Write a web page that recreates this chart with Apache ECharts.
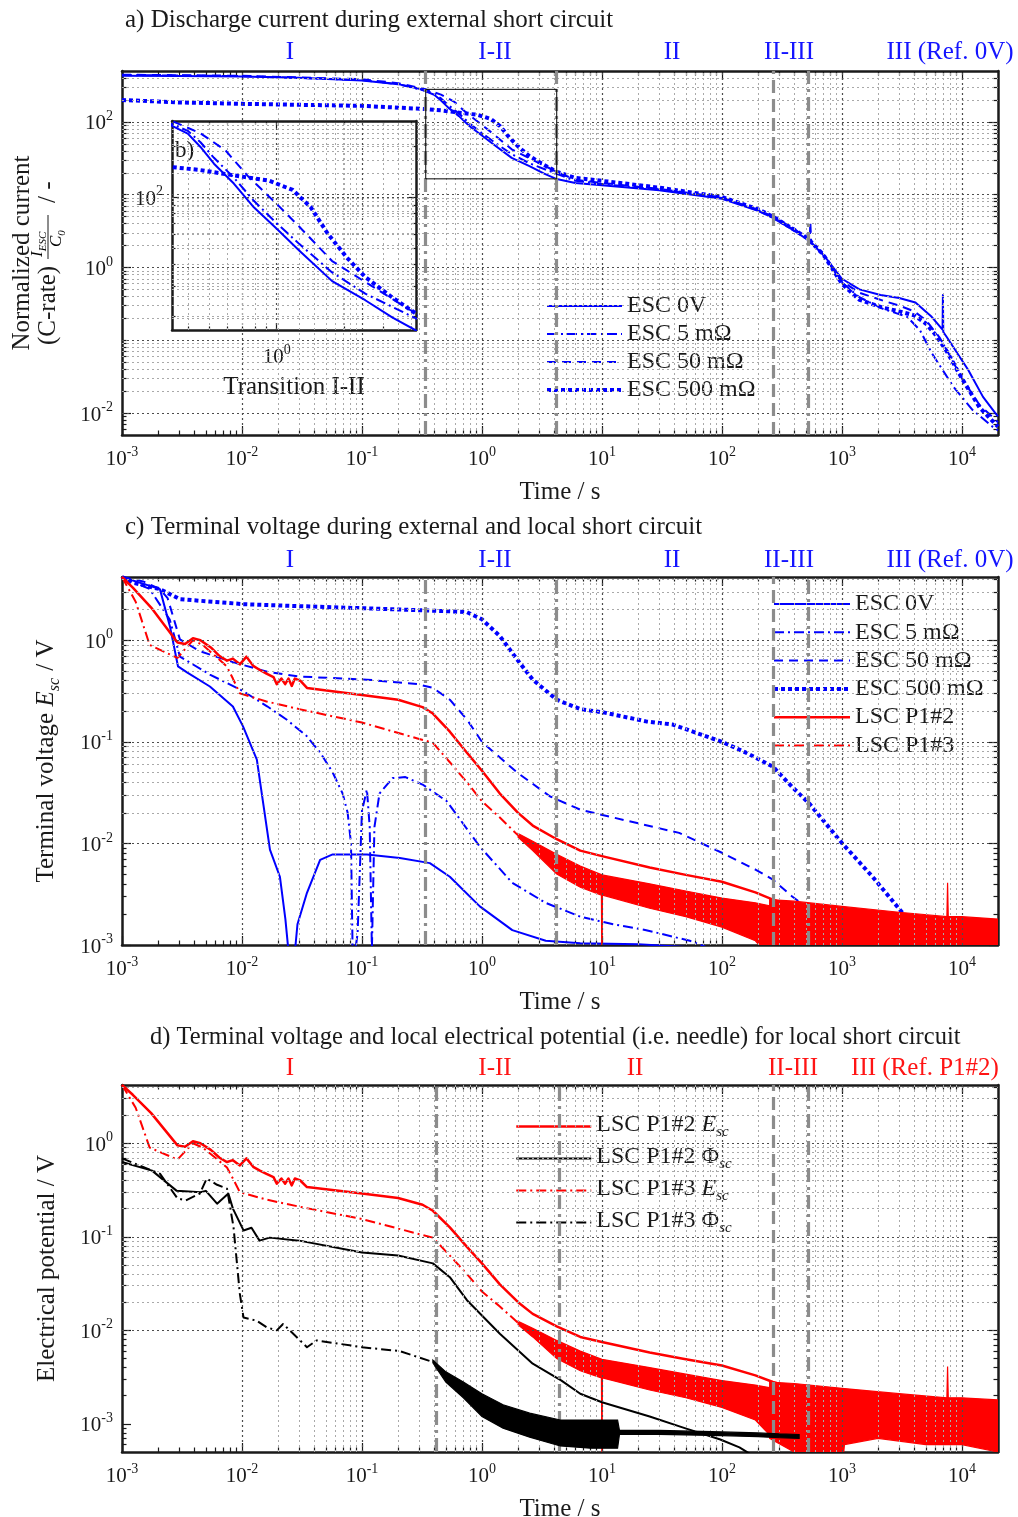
<!DOCTYPE html>
<html><head><meta charset="utf-8">
<script src="https://cdn.jsdelivr.net/npm/echarts/dist/echarts.min.js"></script>
<style>html,body{margin:0;padding:0;background:#fff}#c{width:1018px;height:1517px}</style>
</head><body><div id="c"></div>
<script>
// ================= DATA =================
const xRange = [1e-3, 2e4];
const xTickExps = [-3, -2, -1, 0, 1, 2, 3, 4];
const yRangeA = [5e-3, 5e2];
const yLabelExpsA = [-2, 0, 2];
const yDecadeExpsA = [-2, -1, 0, 1, 2];
const yRangeC = [1e-3, 4.2];
const yTickExpsC = [-3, -2, -1, 0];
const yRangeD = [5e-4, 4.2];
const yTickExpsD = [-3, -2, -1, 0];
const insetXRange = [0.34, 4.2];
const insetYRange = [16.5, 280];
const insetXTickExps = [0];
const insetYTickExps = [2];

const phaseTimesA = [0.34, 4.2, 266, 520];
const phaseTimesD = [0.42, 4.4, 266, 520];
const phaseLabelsA = ['I', 'I-II', 'II', 'II-III', 'III (Ref. 0V)'];
const phaseLabelsD = ['I', 'I-II', 'II', 'II-III', 'III (Ref. P1#2)'];

const legendA = ['ESC 0V', 'ESC 5 mΩ', 'ESC 50 mΩ', 'ESC 500 mΩ'];
const legendC = ['ESC 0V', 'ESC 5 mΩ', 'ESC 50 mΩ', 'ESC 500 mΩ', 'LSC P1#2', 'LSC P1#3'];
const legendD = ['LSC P1#2 Esc', 'LSC P1#2 Φsc', 'LSC P1#3 Esc', 'LSC P1#3 Φsc'];

// inset box (transition I-II) in panel a
const insetBox = [[0.34, 16.5], [4.2, 16.5], [4.2, 280], [0.34, 280], [0.34, 16.5]];

// panel a: normalized current
const escCurrent0V = [[1e-3,430],[3e-3,428],[1e-2,420],[3e-2,405],[0.1,370],[0.2,330],[0.3,285],[0.34,262],[0.4,236],[0.456,197],[0.524,157],[0.643,120],[0.79,87],[1.0,65],[1.26,48.5],[1.77,32],[2.49,24.7],[3.3,19.5],[4.2,16.4],[6,14.5],[10,13.5],[30,11.5],[100,8.8],[200,6.0],[266,4.8],[400,3.2],[520,2.4],[700,1.5],[1000,0.7],[1400,0.5],[2100,0.42],[3000,0.38],[4100,0.33],[5600,0.21],[6900,0.14],[6950,0.42],[7000,0.13],[7500,0.11],[1.13e4,0.039],[1.5e4,0.0167],[1.9e4,0.01],[2e4,0.009]];
const escCurrent5m = [[1e-3,440],[1e-2,425],[0.1,375],[0.2,330],[0.34,268],[0.4,245],[0.456,210],[0.524,170],[0.643,130],[0.79,95],[1.0,70],[1.26,53],[1.77,36],[2.49,27],[4.2,19.3],[6,15.5],[10,14],[30,11.8],[100,9.0],[200,6.1],[266,4.9],[400,3.3],[520,2.5],[700,1.5],[1000,0.62],[1400,0.39],[2200,0.27],[3500,0.21],[4470,0.138],[5600,0.067],[8500,0.023],[1.23e4,0.011],[1.8e4,0.0065],[2e4,0.0058]];
const escCurrent50m = [[1e-3,445],[1e-2,430],[0.1,385],[0.2,340],[0.34,280],[0.456,237],[0.59,188],[0.75,131],[1.0,91],[1.26,67],[1.77,42],[2.49,31.6],[4.2,20.6],[6,16],[10,14.5],[30,12],[100,9.2],[200,6.2],[266,5.0],[400,3.4],[500,2.6],[540,2.3],[545,4.3],[555,2.2],[700,1.5],[1000,0.65],[1400,0.45],[2200,0.35],[3000,0.3],[4000,0.25],[5000,0.19],[6500,0.11],[8000,0.06],[1e4,0.03],[1.4e4,0.013],[2e4,0.0075]];
const escCurrent500m = [[1e-3,200],[3e-3,185],[1e-2,177],[0.1,166],[0.34,150],[0.456,144],[0.643,134],[0.92,125],[1.18,110],[1.42,87],[1.69,61],[2.06,44],[2.49,33.8],[3.27,25.8],[4.2,20.6],[6,17],[10,15.5],[30,12.5],[100,9.3],[200,6.3],[266,5.0],[400,3.3],[520,2.5],[700,1.5],[1000,0.6],[1400,0.36],[2200,0.28],[3000,0.25],[4000,0.22],[5000,0.17],[6000,0.12],[7500,0.07],[1e4,0.03],[1.4e4,0.012],[2e4,0.0065]];

// panel c: terminal voltage ESC
const escVoltage0V = [[1e-3,4.2],[2.07e-3,3.19],[2.51e-3,1.37],[2.93e-3,0.553],[3.48e-3,0.483],[5.4e-3,0.351],[8.4e-3,0.223],[1.02e-2,0.142],[1.33e-2,0.067],[1.71e-2,0.0087],[2.07e-2,0.0047],[2.3e-2,0.0018],[2.6e-2,4e-4],[2.9e-2,0.0016],[3.46e-2,0.0032],[4.48e-2,0.0069],[5.7e-2,0.0078],[0.11,0.0078],[0.207,0.0072],[0.368,0.0064],[0.54,0.0047],[0.96,0.0024],[1.79,0.0014],[3.4,0.0011],[6.6,0.00104],[20,0.00102],[54,0.00095],[80,0.0008]];
const escVoltage5m = [[1e-3,4.2],[1.7e-3,3.2],[2.5e-3,1.6],[3.04e-3,0.69],[5.4e-3,0.46],[1.02e-2,0.316],[1.62e-2,0.224],[2.35e-2,0.166],[3.46e-2,0.114],[4.5e-2,0.078],[5.7e-2,0.05],[6.9e-2,0.031],[7.6e-2,0.02],[8.1e-2,0.01],[8.4e-2,6e-4],[8.6e-2,6e-4],[9.2e-2,0.0013],[0.1,0.021],[0.11,0.034],[0.116,0.0145],[0.121,9e-4],[0.127,0.0145],[0.14,0.031],[0.18,0.044],[0.23,0.045],[0.32,0.038],[0.51,0.026],[0.96,0.0093],[1.79,0.0041],[3.4,0.0026],[6.6,0.0019],[12.4,0.0016],[23.4,0.0014],[54,0.0011],[84,0.0009]];
const escVoltage50m = [[1e-3,4.2],[1.5e-3,3.8],[2.07e-3,3.2],[2.4e-3,2.6],[2.87e-3,1.28],[3.04e-3,1.02],[4.46e-3,0.78],[8.4e-3,0.61],[1.62e-2,0.49],[3e-2,0.44],[0.11,0.41],[0.29,0.37],[0.39,0.34],[0.54,0.26],[0.75,0.166],[1.0,0.1],[1.96,0.05],[3.7,0.029],[6.6,0.0215],[12.4,0.018],[44,0.0127],[100,0.0081],[192,0.0055],[266,0.0044],[385,0.003],[500,0.0024],[520,5e-4]];
const escVoltage500m = [[1e-3,4.2],[1.23e-3,3.7],[2.07e-3,3.19],[3.04e-3,2.54],[1.02e-2,2.27],[3e-2,2.17],[0.1,2.07],[0.29,1.98],[0.54,1.93],[0.75,1.89],[1.0,1.61],[1.41,1.1],[1.96,0.65],[2.65,0.41],[4.2,0.26],[6.6,0.21],[10.3,0.195],[23.4,0.159],[39,0.148],[100,0.1],[160,0.078],[266,0.057],[385,0.036],[530,0.025],[1000,0.0101],[1800,0.0047],[3400,0.0019],[4100,0.00112]];

// LSC terminal voltage (panels c and d)
const lscP12Esc = [[1e-3,4.2],[1.23e-3,3.3],[1.75e-3,2.1],[2.9e-3,0.95],[3.35e-3,0.92],[3.9e-3,1.05],[4.5e-3,1.0],[5.5e-3,0.85],[6.5e-3,0.7],[7.5e-3,0.63],[8.4e-3,0.66],[9.6e-3,0.58],[1.09e-2,0.69],[1.24e-2,0.56],[1.41e-2,0.51],[1.6e-2,0.47],[1.83e-2,0.435],[1.95e-2,0.37],[2.13e-2,0.42],[2.29e-2,0.37],[2.44e-2,0.42],[2.6e-2,0.355],[2.76e-2,0.42],[3.06e-2,0.4],[3.48e-2,0.34],[0.1,0.29],[0.2,0.26],[0.32,0.22],[0.39,0.19],[0.54,0.126],[0.75,0.078],[1.0,0.052],[1.41,0.031],[2.0,0.02],[2.65,0.015],[4.2,0.011],[6.6,0.0085],[10,0.0075],[25,0.0058],[50,0.0049],[100,0.0042],[190,0.0033],[266,0.0028],[400,0.0024]];
const lscP13Esc = [[1e-3,4.2],[1.3e-3,2.4],[1.7e-3,0.9],[2.1e-3,0.8],[2.9e-3,0.67],[3.3e-3,0.8],[3.9e-3,1.0],[4.7e-3,0.9],[6e-3,0.7],[7.5e-3,0.55],[8.4e-3,0.42],[9.6e-3,0.3],[1.6e-2,0.25],[3e-2,0.21],[0.1,0.155],[0.29,0.108],[0.39,0.098],[0.54,0.063],[0.75,0.04],[1.0,0.026],[1.41,0.018],[2.0,0.012]];
const lscP13EscUpper = [[2.0,0.0125],[2.65,0.0105],[4.2,0.0078],[6.6,0.006],[10,0.0049],[25,0.004],[50,0.0034],[100,0.0029],[190,0.0026],[266,0.0024]];
const lscP13EscLower = [[2.0,0.0115],[2.65,0.0085],[4.2,0.005],[6.6,0.0037],[9.9,0.0031],[10.0,4e-4],[10.1,0.0031],[25,0.0023],[50,0.0019],[100,0.0015],[190,0.0011],[266,0.0007]];
const lscFloorUpper = [[250,0.0028],[400,0.0027],[1000,0.0024],[3000,0.0021],[7500,0.0019],[7600,0.0041],[7700,0.0019],[1e4,0.0019],[2e4,0.0018]];
const lscFloorLower = [[250,0.0007],[400,0.0005],[500,0.0003],[1000,0.0003],[1050,0.0006],[2000,0.0007],[5000,0.0006],[1e4,0.0006],[2e4,0.0005]];

// LSC local electrical potential (needle), panel d
const lscP12Phi = [[1e-3,0.63],[1.78e-3,0.51],[2.86e-3,0.31],[4.5e-3,0.3],[5e-3,0.31],[6.2e-3,0.226],[7.7e-3,0.29],[8.4e-3,0.2],[1.03e-2,0.117],[1.2e-2,0.125],[1.4e-2,0.091],[1.7e-2,0.098],[3e-2,0.091],[0.1,0.068],[0.2,0.063],[0.39,0.052],[0.54,0.037],[0.75,0.021],[1.41,0.0092],[2.65,0.0044],[4.6,0.0029],[6.6,0.0021],[10,0.0017],[25,0.0012],[49,0.0009],[97,0.00068],[140,0.00056],[170,0.00048]];
const lscP13Phi = [[1e-3,0.69],[2.07e-3,0.473],[2.9e-3,0.257],[3.4e-3,0.245],[4.46e-3,0.29],[5.08e-3,0.42],[6.2e-3,0.36],[7.5e-3,0.327],[8.5e-3,0.127],[9.6e-3,0.0245],[1.03e-2,0.0137],[1.32e-2,0.0127],[1.6e-2,0.0108],[1.95e-2,0.01],[2.2e-2,0.0117],[2.35e-2,0.0108],[3.48e-2,0.0066],[4.2e-2,0.0078],[0.1,0.0066],[0.207,0.006],[0.368,0.0047],[0.4,0.0046]];
const lscP13PhiUpper = [[0.39,0.0048],[0.5,0.0036],[0.7,0.0028],[1.0,0.0021],[1.5,0.0016],[2.5,0.0013],[4.5,0.0011],[8,0.0011],[13.5,0.0011],[14,0.00085],[30,0.00085],[100,0.00082],[200,0.0008],[300,0.00078],[440,0.00077]];
const lscP13PhiLower = [[0.39,0.0045],[0.5,0.0028],[0.7,0.0019],[1.0,0.0012],[1.5,0.0009],[2.5,0.00072],[4.5,0.00058],[8,0.00055],[13.5,0.00055],[14,0.00077],[30,0.00077],[100,0.00075],[200,0.00073],[300,0.00071],[440,0.0007]];

// ================= STYLE / LAYOUT =================
const FONT = '"Liberation Serif", "DejaVu Serif", serif';
const BLUE = '#0000ff', RED = '#ff0000', BLACK = '#000000';
const INK = '#1a1a1a';
const DASHDOT = [10, 4, 2, 4];
const DASHED = [9, 6];
const DOTTED = [4, 3];
const PHASE_STYLES = [[14, 5, 3, 5], [14, 5, 3, 5], [13, 6], [14, 5, 3, 5]];
const PHASE_COLOR = '#8c8c8c';
const TXT = 25;       // text size (titles, names, phase labels)
const LEG = 24;       // legend text size

const GRIDS = [
  {left: 122, top: 71, width: 876, height: 364},    // a
  {left: 172, top: 121, width: 244, height: 209},   // b inset
  {left: 122, top: 577, width: 876, height: 368},   // c
  {left: 122, top: 1085, width: 876, height: 367}   // d
];

const dec = exps => exps.map(e => Math.pow(10, e));
function minorVals(range, skip) {
  const out = [];
  const d0 = Math.floor(Math.log10(range[0]) - 1e-9), d1 = Math.floor(Math.log10(range[1]) + 1e-9);
  for (let d = d0; d <= d1; d++) for (let k = 1; k <= 9; k++) {
    const v = +(k * Math.pow(10, d)).toPrecision(6);
    if (v > range[0] * 1.0001 && v < range[1] * 0.9999 && !skip.some(s => Math.abs(s - v) / v < 1e-6)) out.push(v);
  }
  return out;
}

const tickRich = {
  b: {fontFamily: FONT, fontSize: 21, color: INK, verticalAlign: 'bottom', lineHeight: 23},
  s: {fontFamily: FONT, fontSize: 14, color: INK, verticalAlign: 'top', padding: [0, 0, 11, 0]}
};
function supFmt(v) { const e = Math.round(Math.log10(v)); return '{b|10}{s|' + e + '}'; }

const xAxes = [], yAxes = [];
function addAxes(gi, xr, yr, t, cfg) {
  const xi = xAxes.length, yi = yAxes.length;
  const base = r => ({gridIndex: gi, type: 'log', logBase: 10, min: r[0], max: r[1], splitLine: {show: false},
    minorTick: {show: false}, minorSplitLine: {show: false}, silent: true, axisPointer: {show: false}});
  const lineOn = {show: true, onZero: false, lineStyle: {color: INK, width: cfg.bw}};
  const tk = (vals, len) => ({show: true, inside: true, length: len, customValues: vals, lineStyle: {color: INK, width: 1.2}});
  const nameStyle = {fontFamily: FONT, fontSize: TXT, color: INK};
  xAxes.push(Object.assign(base(xr), {position: 'bottom', axisLine: lineOn, axisTick: tk(t.xMaj, cfg.tl),
    axisLabel: {show: true, customValues: t.xLab, formatter: supFmt, rich: tickRich, margin: cfg.xm},
    name: cfg.xName, nameLocation: 'middle', nameGap: cfg.xng, nameTextStyle: nameStyle}));
  xAxes.push(Object.assign(base(xr), {position: 'bottom', axisLine: {show: false}, axisTick: tk(t.xMin, cfg.tl / 2), axisLabel: {show: false}}));
  xAxes.push(Object.assign(base(xr), {position: 'top', axisLine: lineOn, axisTick: tk(t.xMaj, cfg.tl), axisLabel: {show: false}}));
  xAxes.push(Object.assign(base(xr), {position: 'top', axisLine: {show: false}, axisTick: tk(t.xMin, cfg.tl / 2), axisLabel: {show: false}}));
  const yMain = Object.assign(base(yr), {position: 'left', axisLine: lineOn, axisTick: tk(t.yMaj, cfg.tl),
    axisLabel: {show: true, customValues: t.yLab, formatter: supFmt, rich: tickRich, margin: cfg.ym}});
  if (cfg.yName) Object.assign(yMain, {name: cfg.yName, nameLocation: 'middle', nameGap: cfg.yng, nameRotate: 90, nameTextStyle: cfg.yNameStyle || nameStyle});
  yAxes.push(yMain);
  yAxes.push(Object.assign(base(yr), {position: 'left', axisLine: {show: false}, axisTick: tk(t.yMin, cfg.tl / 2), axisLabel: {show: false}}));
  yAxes.push(Object.assign(base(yr), {position: 'right', axisLine: lineOn, axisTick: tk(t.yMaj, cfg.tl), axisLabel: {show: false}}));
  yAxes.push(Object.assign(base(yr), {position: 'right', axisLine: {show: false}, axisTick: tk(t.yMin, cfg.tl / 2), axisLabel: {show: false}}));
  return [xi, yi];
}

const xDec = dec(xTickExps);
const xMinor = minorVals(xRange, xDec);

// Panel a
const aDec = dec(yDecadeExpsA), aLab = dec(yLabelExpsA);
const [xa, ya] = addAxes(0, xRange, yRangeA, {xMaj: xDec, xMin: xMinor, xLab: xDec, yMaj: aLab, yMin: minorVals(yRangeA, aLab), yLab: aLab},
  {bw: 2.5, tl: 9, xm: 10, ym: 9, xName: 'Time / s', xng: 45});
// Inset
const bX = dec(insetXTickExps), bY = dec(insetYTickExps);
const [xb, yb] = addAxes(1, insetXRange, insetYRange, {xMaj: bX, xMin: minorVals(insetXRange, bX), xLab: bX, yMaj: bY, yMin: minorVals(insetYRange, bY), yLab: bY},
  {bw: 2.5, tl: 7, xm: 13, ym: 9, xName: 'Transition I-II', xng: 45});
// Panel c
const cDec = dec(yTickExpsC);
const [xc, yc] = addAxes(2, xRange, yRangeC, {xMaj: xDec, xMin: xMinor, xLab: xDec, yMaj: cDec, yMin: minorVals(yRangeC, cDec), yLab: cDec},
  {bw: 2.5, tl: 9, xm: 10, ym: 9, xName: 'Time / s', xng: 45,
   yName: '{n|Terminal voltage }{i|E}{s|sc}{n| / V}', yng: 59,
   yNameStyle: {rich: {
     n: {fontFamily: FONT, fontSize: TXT, color: INK, verticalAlign: 'bottom', padding: [0, 0, 4, 0]},
     i: {fontFamily: FONT, fontSize: TXT, color: INK, fontStyle: 'italic', verticalAlign: 'bottom', padding: [0, 0, 4, 0]},
     s: {fontFamily: FONT, fontSize: 16, color: INK, fontStyle: 'italic', verticalAlign: 'bottom', padding: [9, 1, 0, 0]}}}});
// Panel d
const dDec = dec(yTickExpsD);
const [xd, yd] = addAxes(3, xRange, yRangeD, {xMaj: xDec, xMin: xMinor, xLab: xDec, yMaj: dDec, yMin: minorVals(yRangeD, dDec), yLab: dDec},
  {bw: 2.5, tl: 9, xm: 10, ym: 9, xName: 'Time / s', xng: 45,
   yName: 'Electrical potential / V', yng: 62});

// ================= SERIES =================
const series = [];
const majorGrid = {color: '#4d4d4d', width: 1.2, type: [2, 3]};
const minorGrid = {color: '#a9a9a9', width: 1, type: [2, 3]};
function gridLines(xi, yi, xMaj, xMin, yMaj, yMin) {
  const data = [];
  xMin.forEach(v => data.push({xAxis: v, lineStyle: minorGrid}));
  yMin.forEach(v => data.push({yAxis: v, lineStyle: minorGrid}));
  xMaj.forEach(v => data.push({xAxis: v, lineStyle: majorGrid}));
  yMaj.forEach(v => data.push({yAxis: v, lineStyle: majorGrid}));
  series.push({type: 'line', xAxisIndex: xi, yAxisIndex: yi, data: [], silent: true, z: 1,
    markLine: {silent: true, symbol: ['none', 'none'], label: {show: false}, animation: false, data}});
}
function phaseLines(xi, yi, times) {
  series.push({type: 'line', xAxisIndex: xi, yAxisIndex: yi, data: [], silent: true, z: 8,
    markLine: {silent: true, symbol: ['none', 'none'], label: {show: false}, animation: false,
      data: times.map((t, i) => ({xAxis: t, lineStyle: {color: PHASE_COLOR, width: 3.2, type: PHASE_STYLES[i]}}))}});
}
const styleOf = {};
function lineS(name, data, xi, yi, color, width, type, z) {
  styleOf[name] = {color, width, type};
  series.push({name, type: 'line', data, xAxisIndex: xi, yAxisIndex: yi, symbol: 'none', showSymbol: false,
    clip: true, z: z || 3, lineStyle: {color, width, type, cap: 'butt', join: 'round'}, itemStyle: {color},
    emphasis: {disabled: true}, silent: true});
}
function bandS(upper, lower, xi, yi, color, z) {
  const pts = upper.concat(lower.slice().reverse());
  series.push({type: 'custom', xAxisIndex: xi, yAxisIndex: yi, data: pts, z: z || 3, silent: true, clip: true,
    renderItem: (params, api) => {
      if (params.dataIndex !== 0) return null;
      const cs = params.coordSys;
      const points = pts.map(p => api.coord(p));
      return {type: 'polygon', shape: {points}, style: {fill: color, stroke: color, lineWidth: 1.2},
        clipPath: {type: 'rect', shape: {x: cs.x, y: cs.y, width: cs.width, height: cs.height}}};
    }});
}

// Panel a
gridLines(xa, ya, xDec, xMinor, aDec, minorVals(yRangeA, aDec));
lineS('ESC 0V', escCurrent0V, xa, ya, BLUE, 2, 'solid');
lineS('ESC 5 mΩ', escCurrent5m, xa, ya, BLUE, 2, DASHDOT);
lineS('ESC 50 mΩ', escCurrent50m, xa, ya, BLUE, 2, DASHED);
lineS('ESC 500 mΩ', escCurrent500m, xa, ya, BLUE, 4, DOTTED);
series.push({type: 'line', data: insetBox, xAxisIndex: xa, yAxisIndex: ya, symbol: 'none', z: 5, silent: true,
  lineStyle: {color: '#000', width: 1}});
phaseLines(xa, ya, phaseTimesA);

// Inset b
gridLines(xb, yb, bX, minorVals(insetXRange, bX), bY, minorVals(insetYRange, bY));
lineS('ESC 0V', escCurrent0V, xb, yb, BLUE, 2, 'solid', 6);
lineS('ESC 5 mΩ', escCurrent5m, xb, yb, BLUE, 2, DASHDOT, 6);
lineS('ESC 50 mΩ', escCurrent50m, xb, yb, BLUE, 2, DASHED, 6);
lineS('ESC 500 mΩ', escCurrent500m, xb, yb, BLUE, 4, DOTTED, 6);

// Panel c
gridLines(xc, yc, xDec, xMinor, cDec, minorVals(yRangeC, cDec));
lineS('ESC 0V', escVoltage0V, xc, yc, BLUE, 2, 'solid');
lineS('ESC 5 mΩ', escVoltage5m, xc, yc, BLUE, 2, DASHDOT);
lineS('ESC 50 mΩ', escVoltage50m, xc, yc, BLUE, 2, DASHED);
lineS('ESC 500 mΩ', escVoltage500m, xc, yc, BLUE, 4, DOTTED);
lineS('LSC P1#2', lscP12Esc, xc, yc, RED, 2.5, 'solid', 4);
bandS(lscFloorUpper, lscFloorLower, xc, yc, RED, 4);
lineS('LSC P1#3', lscP13Esc, xc, yc, RED, 2, DASHDOT, 4);
bandS(lscP13EscUpper, lscP13EscLower, xc, yc, RED, 4);
phaseLines(xc, yc, phaseTimesA);

// Panel d
gridLines(xd, yd, xDec, xMinor, dDec, minorVals(yRangeD, dDec));
lineS('LSC P1#2 Esc', lscP12Esc, xd, yd, RED, 2.5, 'solid', 4);
bandS(lscFloorUpper, lscFloorLower, xd, yd, RED, 4);
lineS('LSC P1#2 Φsc', lscP12Phi, xd, yd, BLACK, 2, 'solid', 4);
lineS('LSC P1#3 Esc', lscP13Esc, xd, yd, RED, 2, DASHDOT, 4);
bandS(lscP13EscUpper, lscP13EscLower, xd, yd, RED, 4);
lineS('LSC P1#3 Φsc', lscP13Phi, xd, yd, BLACK, 2, DASHDOT, 5);
bandS(lscP13PhiUpper, lscP13PhiLower, xd, yd, BLACK, 5);
phaseLines(xd, yd, phaseTimesD);

// ================= LEGENDS =================
const legText = {fontFamily: FONT, fontSize: LEG, color: INK};
const legRich = {
  n: {fontFamily: FONT, fontSize: LEG, color: INK, verticalAlign: 'bottom', padding: [0, 0, 3, 0]},
  i: {fontFamily: FONT, fontSize: LEG, color: INK, fontStyle: 'italic', verticalAlign: 'bottom', padding: [0, 0, 3, 0]},
  u: {fontFamily: FONT, fontSize: LEG, color: INK, verticalAlign: 'bottom', padding: [0, 0, 3, 0]},
  s: {fontFamily: FONT, fontSize: 15, color: INK, fontStyle: 'italic', verticalAlign: 'bottom', padding: [7, 0, 0, 0]}
};
function legFmtD(name) {
  const m = name.match(/^(LSC P1#\d) (E|Φ)sc$/);
  return '{n|' + m[1] + ' }' + (m[2] === 'E' ? '{i|E}' : '{u|Φ}') + '{s|sc}';
}
const legItems = names => names.map(n => ({name: n, itemStyle: {opacity: 0},
  lineStyle: {color: styleOf[n].color, width: styleOf[n].width, type: styleOf[n].type, cap: 'butt'}}));
const legBase = {orient: 'vertical', itemHeight: 14, padding: 0, selectedMode: false, itemStyle: {opacity: 0}};
const legends = [
  Object.assign({data: legItems(legendA), left: 545, top: 294, itemWidth: 75, itemGap: 4, textStyle: legText}, legBase),
  Object.assign({data: legItems(legendC), left: 772, top: 592, itemWidth: 76, itemGap: 4.3, textStyle: legText}, legBase),
  Object.assign({data: legItems(legendD), left: 515, top: 1113, itemWidth: 75, itemGap: 5, formatter: legFmtD,
    textStyle: Object.assign({rich: legRich}, legText)}, legBase)
];

// ================= TEXT (titles, phase labels, y-name of panel a) =================
function txt(x, y, text, color, align, size) {
  return {type: 'text', x, y, silent: true, style: {text, fill: color || INK, fontFamily: FONT, fontSize: size || TXT,
    textAlign: align || 'left', textVerticalAlign: 'middle'}};
}
const phaseLabelX = [290, 495, 672, 789, 950];
const phaseLabelXD = [290, 495, 635, 793, 925];
const graphics = [
  txt(125, 20, 'a) Discharge current during external short circuit'),
  txt(125, 527, 'c) Terminal voltage during external and local short circuit'),
  txt(150, 1038, 'd) Terminal voltage and local electrical potential (i.e. needle) for local short circuit', INK, 'left', 24.5),
  txt(175, 151, 'b)', INK, 'left', 23)
];
phaseLabelsA.forEach((l, i) => { graphics.push(txt(phaseLabelX[i], 52, l, '#1414ff', 'center')); graphics.push(txt(phaseLabelX[i], 560, l, '#1414ff', 'center')); });
phaseLabelsD.forEach((l, i) => graphics.push(txt(phaseLabelXD[i], 1068, l, '#ff1414', 'center')));
const fracRich = {i: {fontFamily: FONT, fontSize: 17, fontStyle: 'italic', color: INK, verticalAlign: 'bottom', padding: [0, 0, 2, 0]},
  s: {fontFamily: FONT, fontSize: 11, fontStyle: 'italic', color: INK, verticalAlign: 'bottom', padding: [4, 0, 0, 0]}};
graphics.push({type: 'group', x: 35, y: 253, rotation: Math.PI / 2, silent: true, children: [
  {type: 'text', x: 0, y: -13, style: {text: 'Normalized current', fill: INK, fontFamily: FONT, fontSize: TXT, textAlign: 'center', textVerticalAlign: 'middle'}},
  {type: 'text', x: -92, y: 13, style: {text: '(C-rate)', fill: INK, fontFamily: FONT, fontSize: TXT, textAlign: 'left', textVerticalAlign: 'middle'}},
  {type: 'text', x: -4, y: 4, style: {text: '{i|I}{s|ESC}', rich: fracRich, textAlign: 'left', textVerticalAlign: 'middle'}},
  {type: 'line', shape: {x1: -6, y1: 13, x2: 38, y2: 13}, style: {stroke: INK, lineWidth: 1}},
  {type: 'text', x: 6, y: 23, style: {text: '{i|C}{s|0}', rich: fracRich, textAlign: 'left', textVerticalAlign: 'middle'}},
  {type: 'text', x: 50, y: 13, style: {text: '/ -', fill: INK, fontFamily: FONT, fontSize: TXT, textAlign: 'left', textVerticalAlign: 'middle'}}
]});

// ================= CHART =================
const chart = echarts.init(document.getElementById('c'), null, {renderer: 'canvas'});
chart.setOption({
  animation: false,
  backgroundColor: '#ffffff',
  textStyle: {fontFamily: FONT},
  grid: GRIDS.map(g => Object.assign({containLabel: false, outerBoundsMode: 'none', show: false}, g)),
  xAxis: xAxes,
  yAxis: yAxes,
  legend: legends,
  series,
  graphic: graphics
});
</script></body></html>
